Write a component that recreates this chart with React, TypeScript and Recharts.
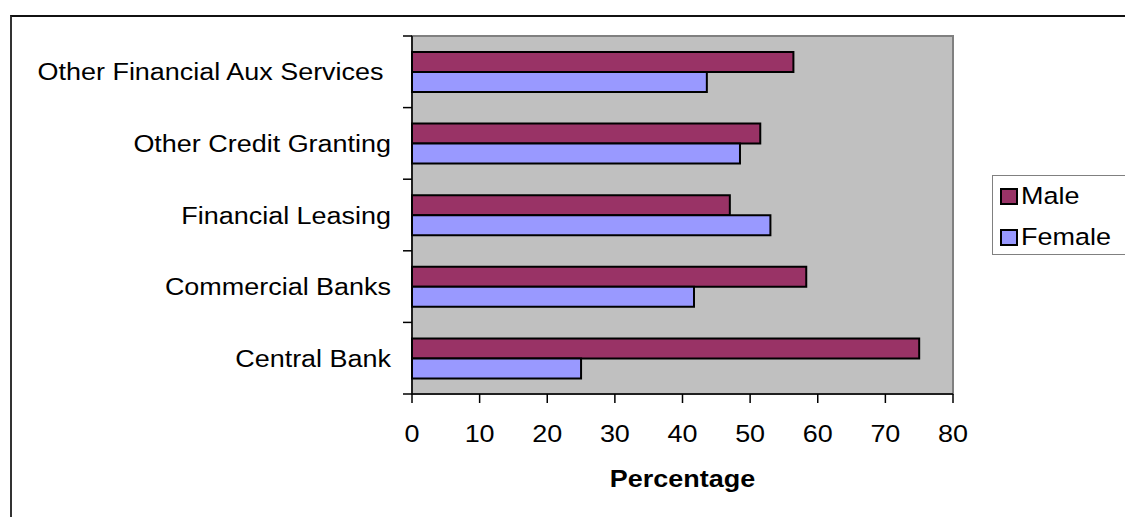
import React from 'react';
import { BarChart, Bar, XAxis, YAxis, Legend, ReferenceArea } from 'recharts';

const categories = [
  'Other Financial Aux Services ',
  'Other Credit Granting',
  'Financial Leasing',
  'Commercial Banks',
  'Central Bank',
];
const maleValues = [56.4, 51.5, 47, 58.3, 75];
const femaleValues = [43.6, 48.5, 53, 41.7, 25];
const xTicks = [0, 10, 20, 30, 40, 50, 60, 70, 80];

const MALE = '#993366';
const FEMALE = '#9999FF';
const FONT = '"Liberation Sans", Arial, sans-serif';
const FONT_SIZE = 24.5;
const STRETCH = 1.1; // the source picture is a little wider than it is tall

const Y_TICK_SIZE = 9;
const Y_TICK_MARGIN = 12;

const data = categories.map((name, i) => ({
  name,
  male: maleValues[i],
  female: femaleValues[i],
}));

// category label plus a tick mark on the boundary between categories
const YTick = (props: any) => {
  const { x, y, payload, index, visibleTicksCount } = props;
  const half = payload?.offset ?? 0;
  const axisX = x + Y_TICK_MARGIN + Y_TICK_SIZE;
  const isLast = index === visibleTicksCount - 1;
  return (
    <g>
      <line x1={axisX - Y_TICK_SIZE} x2={axisX} y1={y - half} y2={y - half} stroke="#000" strokeWidth={1.5} />
      {isLast && (
        <line x1={axisX - Y_TICK_SIZE} x2={axisX} y1={y + half} y2={y + half} stroke="#000" strokeWidth={1.5} />
      )}
      <text
        x={0}
        y={0}
        dy={8.6}
        transform={`translate(${x},${y}) scale(${STRETCH},1)`}
        textAnchor="end"
        fontSize={FONT_SIZE}
        fontFamily={FONT}
        fill="#000"
        xmlSpace="preserve"
        style={{ whiteSpace: 'pre' }}
      >
        {payload.value}
      </text>
    </g>
  );
};

const XTick = (props: any) => {
  const { x, y, payload } = props;
  return (
    <text
      x={0}
      y={0}
      dy={8.8}
      transform={`translate(${x},${y}) scale(${STRETCH},1)`}
      textAnchor="middle"
      fontSize={FONT_SIZE}
      fontFamily={FONT}
      fill="#000"
    >
      {payload.value}
    </text>
  );
};

const AxisTitle = (props: any) => {
  const vb = props.viewBox || { x: 0, y: 0, width: 0, height: 0 };
  return (
    <text
      x={0}
      y={0}
      transform={`translate(${vb.x + vb.width / 2},${vb.y + 93}) scale(${STRETCH},1)`}
      textAnchor="middle"
      fontSize={FONT_SIZE}
      fontWeight="bold"
      fontFamily={FONT}
      fill="#000"
    >
      Percentage
    </text>
  );
};

const LegendBox = () => {
  const items = [
    { label: 'Male', color: MALE },
    { label: 'Female', color: FEMALE },
  ];
  return (
    <div
      style={{
        border: '1px solid #808080',
        background: '#fff',
        width: 140,
        height: 80,
        paddingLeft: 7,
        boxSizing: 'border-box',
        fontFamily: FONT,
      }}
    >
      {items.map(it => (
        <div key={it.label} style={{ height: 41, display: 'flex', alignItems: 'center' }}>
          <div
            style={{
              width: 18,
              height: 17,
              background: it.color,
              border: '2px solid #000',
              boxSizing: 'border-box',
              flexShrink: 0,
            }}
          />
          <span
            style={{
              marginLeft: 3,
              fontSize: FONT_SIZE,
              display: 'inline-block',
              transform: `scaleX(${STRETCH})`,
              transformOrigin: 'left center',
              color: '#000',
              lineHeight: 1,
            }}
          >
            {it.label}
          </span>
        </div>
      ))}
    </div>
  );
};

export default function App() {
  return (
    <div
      style={{
        position: 'fixed',
        left: 0,
        top: 0,
        width: 1125,
        height: 517,
        overflow: 'hidden',
        background: '#fff',
      }}
    >
      <div
        style={{
          position: 'absolute',
          left: 10,
          top: 15,
          width: 1200,
          height: 600,
          borderTop: '2px solid #111',
          borderLeft: '2px solid #333',
        }}
      />
      <div style={{ position: 'absolute', left: 0, top: 0 }}>
        <BarChart
          width={1125}
          height={517}
          data={data}
          layout="vertical"
          margin={{ top: 36, right: 172, bottom: 0, left: 0 }}
          barSize={20}
          barGap={0}
        >
          <ReferenceArea
            x1={0}
            x2={80}
            fill="#C0C0C0"
            fillOpacity={1}
            stroke="#808080"
            strokeWidth={2}
          />
          <XAxis
            type="number"
            domain={[0, 80]}
            ticks={xTicks}
            interval={0}
            height={123}
            tickSize={9}
            tickMargin={30}
            axisLine={{ stroke: '#000', strokeWidth: 1.5 }}
            tickLine={{ stroke: '#000', strokeWidth: 1.5 }}
            tick={<XTick />}
            label={<AxisTitle />}
          />
          <YAxis
            type="category"
            dataKey="name"
            width={412}
            interval={0}
            tickSize={Y_TICK_SIZE}
            tickMargin={Y_TICK_MARGIN}
            tickLine={false}
            axisLine={{ stroke: '#000', strokeWidth: 1.5 }}
            tick={<YTick />}
          />
          <Legend
            layout="vertical"
            align="center"
            verticalAlign="middle"
            wrapperStyle={{ left: 992, top: 175, width: 140 }}
            content={<LegendBox />}
          />
          <Bar dataKey="male" name="Male" fill={MALE} stroke="#000" strokeWidth={2} isAnimationActive={false} />
          <Bar dataKey="female" name="Female" fill={FEMALE} stroke="#000" strokeWidth={2} isAnimationActive={false} />
        </BarChart>
      </div>
    </div>
  );
}
